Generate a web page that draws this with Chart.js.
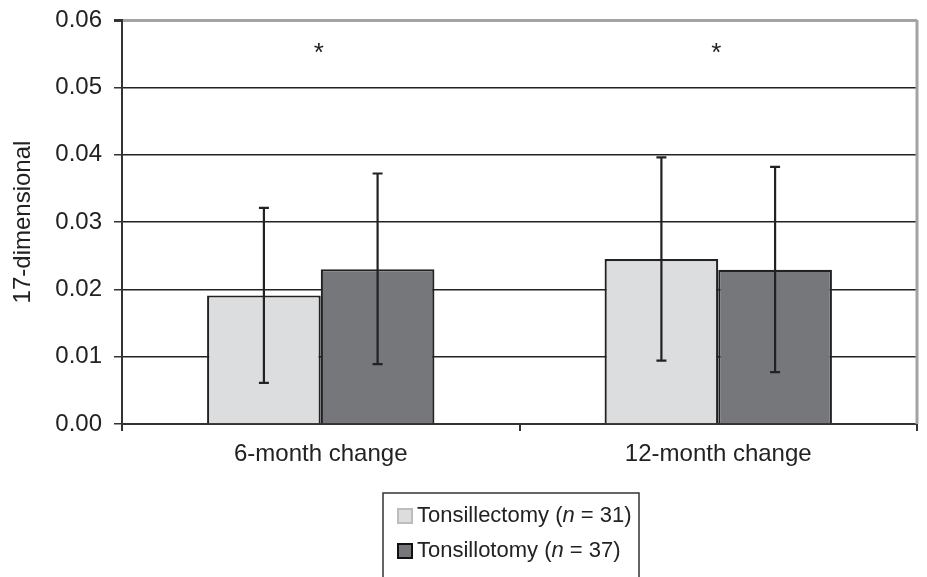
<!DOCTYPE html>
<html>
<head>
<meta charset="utf-8">
<script src="https://cdn.jsdelivr.net/npm/chart.js@4"></script>
<style>
  html, body { margin: 0; padding: 0; background: #fff; }
  #wrap { width: 927px; height: 577px; }
</style>
</head>
<body>
<div id="wrap"><canvas id="chart" width="927" height="577"></canvas></div>
<script>
// categories and values
const categories = ["6-month change", "12-month change"];
const tonsillectomy = [0.0191, 0.0245];
const tonsillotomy = [0.0230, 0.0229];
// error bar ends
const tonsillectomyLow = [0.0061, 0.0094];
const tonsillectomyHigh = [0.0321, 0.0396];
const tonsillotomyLow = [0.0089, 0.0077];
const tonsillotomyHigh = [0.0372, 0.0382];
// significance marks (asterisk above each category)
const significant = [true, true];
const starLevel = 0.0557;
const yMin = 0, yMax = 0.06, yStep = 0.01;

const FONT = "'Liberation Sans', Arial, sans-serif";
const ink = "#222";

// error bars + asterisks
const errorBars = {
  id: "errorBars",
  afterDatasetsDraw(chart) {
    const ctx = chart.ctx;
    const y = chart.scales.y;
    const ranges = [[tonsillectomyLow, tonsillectomyHigh], [tonsillotomyLow, tonsillotomyHigh]];
    ctx.save();
    ctx.strokeStyle = ink;
    ctx.lineWidth = 2.2;
    ranges.forEach((r, d) => {
      chart.getDatasetMeta(d).data.forEach((bar, i) => {
        const x = bar.x;
        const top = y.getPixelForValue(r[1][i]);
        const bot = y.getPixelForValue(r[0][i]);
        ctx.beginPath();
        ctx.moveTo(x, top); ctx.lineTo(x, bot);
        ctx.moveTo(x - 5, top); ctx.lineTo(x + 5, top);
        ctx.moveTo(x - 5, bot); ctx.lineTo(x + 5, bot);
        ctx.stroke();
      });
    });
    // asterisks
    ctx.fillStyle = ink;
    ctx.font = "26px " + FONT;
    ctx.textAlign = "center";
    ctx.textBaseline = "middle";
    const xs = chart.scales.x;
    significant.forEach((s, i) => {
      if (s) ctx.fillText("*", xs.getPixelForValue(i) - 2, y.getPixelForValue(starLevel) + 5);
    });
    // gray frame on the right
    const a = chart.chartArea;
    ctx.strokeStyle = "#a3a3a3";
    ctx.lineWidth = 3;
    ctx.beginPath();
    ctx.moveTo(a.right, a.top); ctx.lineTo(a.right, a.bottom);
    ctx.stroke();
    ctx.restore();
  }
};

// boxed legend under the chart, with italic n
const boxLegend = {
  id: "boxLegend",
  afterDraw(chart) {
    const ctx = chart.ctx;
    ctx.save();
    ctx.strokeStyle = "#333";
    ctx.lineWidth = 1.5;
    ctx.strokeRect(383, 493, 256, 100);
    const items = [
      { fill: "#dcdddf", edge: "#bdbdbd", parts: ["Tonsillectomy (", "n", " = 31)"] },
      { fill: "#76777b", edge: "#111", parts: ["Tonsillotomy (", "n", " = 37)"] }
    ];
    items.forEach((it, k) => {
      const cy = 516 + k * 35;
      ctx.fillStyle = it.fill;
      ctx.strokeStyle = it.edge;
      ctx.lineWidth = 2;
      ctx.fillRect(398, cy - 7, 14, 14);
      ctx.strokeRect(398, cy - 7, 14, 14);
      let x = 417;
      ctx.fillStyle = ink;
      ctx.textBaseline = "middle";
      ctx.textAlign = "left";
      it.parts.forEach((p, j) => {
        ctx.font = (j === 1 ? "italic " : "") + "22px " + FONT;
        ctx.fillText(p, x, cy);
        x += ctx.measureText(p).width;
      });
    });
    ctx.restore();
  }
};

new Chart(document.getElementById("chart"), {
  type: "bar",
  data: {
    labels: categories,
    datasets: [
      {
        label: "Tonsillectomy (n = 31)",
        data: tonsillectomy,
        backgroundColor: "#dcdddf",
        borderColor: ink,
        borderWidth: 2.2
      },
      {
        label: "Tonsillotomy (n = 37)",
        data: tonsillotomy,
        backgroundColor: "#76777b",
        borderColor: ink,
        borderWidth: 2.2
      }
    ]
  },
  options: {
    responsive: false,
    animation: false,
    layout: { padding: { top: 20, right: 10, left: 0, bottom: 0 } },
    plugins: { legend: { display: false }, tooltip: { enabled: false } },
    datasets: { bar: { barPercentage: 1, categoryPercentage: 0.572 } },
    scales: {
      x: {
        grid: { drawOnChartArea: false, drawTicks: true, tickLength: 7, color: "#333", lineWidth: 2 },
        border: { color: "#333", width: 2 },
        ticks: { color: ink, font: { family: FONT, size: 24 }, padding: 9 },
        afterFit(s) { s.height = 153; s.paddingLeft = 0; s.paddingRight = 0; }
      },
      y: {
        min: yMin,
        max: yMax,
        ticks: {
          stepSize: yStep,
          color: ink,
          font: { family: FONT, size: 24 },
          padding: 12,
          callback: v => v.toFixed(2)
        },
        grid: {
          tickLength: 8,
          tickColor: "#333",
          color: c => (c.tick && Math.abs(c.tick.value - yMax) < 1e-9 ? "#a3a3a3" : "#222"),
          lineWidth: c => (c.tick && Math.abs(c.tick.value - yMax) < 1e-9 ? 3 : 1.5)
        },
        border: { color: "#333", width: 2 },
        title: {
          display: true,
          text: "17-dimensional",
          color: ink,
          font: { family: FONT, size: 24 },
          padding: { top: 9, bottom: 0 }
        },
        afterFit(s) { s.width = 122; s.paddingTop = 0; s.paddingBottom = 0; }
      }
    }
  },
  plugins: [errorBars, boxLegend]
});
</script>
</body>
</html>
